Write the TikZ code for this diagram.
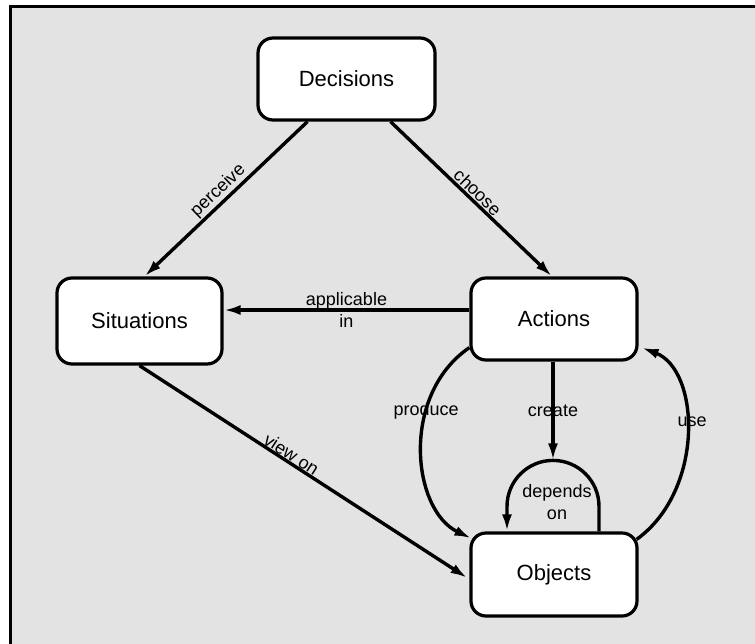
\documentclass[tikz,border=0pt]{standalone}
\usepackage{fontspec}
\setmainfont{Liberation Sans}
\usetikzlibrary{arrows.meta,calc}
\begin{document}
\begin{tikzpicture}[x=1pt,y=-1pt,
  box/.style={draw, line width=3.2pt, fill=white, rounded corners=15pt,
    font=\fontsize{22}{26}\selectfont, inner sep=0pt,
    minimum width=166pt, minimum height=82pt},
  link/.style={line width=3.4pt, -{Latex[length=17pt,width=10pt]}},
  lbl/.style={font=\fontsize{18}{22}\selectfont, inner sep=2pt}]

% page and shaded panel with its frame
\useasboundingbox (0,0) rectangle (755,643);
\fill[white] (0,0) rectangle (755,643);
\fill[black!11] (10,6) rectangle (762,650);
\draw[line width=3pt] (10,650) -- (10,6) -- (762,6);

% concepts
\node[box, minimum width=177pt] (dec) at (346.5,79) {Decisions};
\node[box, minimum width=165pt, minimum height=86pt] (sit) at (139.5,321) {Situations};
\node[box] (act) at (554,319) {Actions};
\node[box, minimum height=83pt] (obj) at (554,574.5) {Objects};

% relations
\draw[link] ($(dec.south)+(-39,0)$) -- node[lbl, sloped, above, inner sep=1pt] {perceive} ($(sit.north)+(5,0)$);
\draw[link] ($(dec.south)+(44,0)$) -- node[lbl, sloped, above, inner sep=1pt] {choose} ($(act.north)+(-2,0)$);
\draw[link] ($(act.west)+(0,-9)$) -- node[lbl, align=center, inner sep=0pt] {applicable\\in} ($(sit.east)+(0,-11)$);
\draw[link] (sit.south) -- node[lbl, sloped, above, pos=0.45, inner sep=0pt] {view on} ($(obj.west)+(-2,3.5)$);
\draw[link] ($(act.south west)+(0,-14)$) .. controls (400,395) and (412,510) ..
  node[lbl, pos=0.33] {produce} ($(obj.north west)+(2,7)$);
\draw[link] ($(obj.north east)+(-2,8)$) .. controls (705,490) and (700,370) ..
  node[lbl, pos=0.55, xshift=6pt] {use} ($(act.south east)+(3,-14)$);

% dependency loop on objects, target of "create"
\coordinate (dtop) at ($(obj.north)+(-1,-71)$);
\draw[link] ($(obj.north)+(45,0)$) -- ++(0,-25)
  .. controls +(0,-25.4) and +(25.4,0) .. (dtop)
  .. controls +(-25.4,0) and +(0,-25.4) .. ($(dtop)+(-46,46)$)
  -- ($(obj.north)+(-47,0)$);
\node[lbl, align=center, inner sep=0pt] (dep) at ($(dtop)+(4,42)$) {depends\\on};
\draw[link] (act.south -| dtop) -- node[lbl] {create} (dtop);
\end{tikzpicture}
\end{document}
